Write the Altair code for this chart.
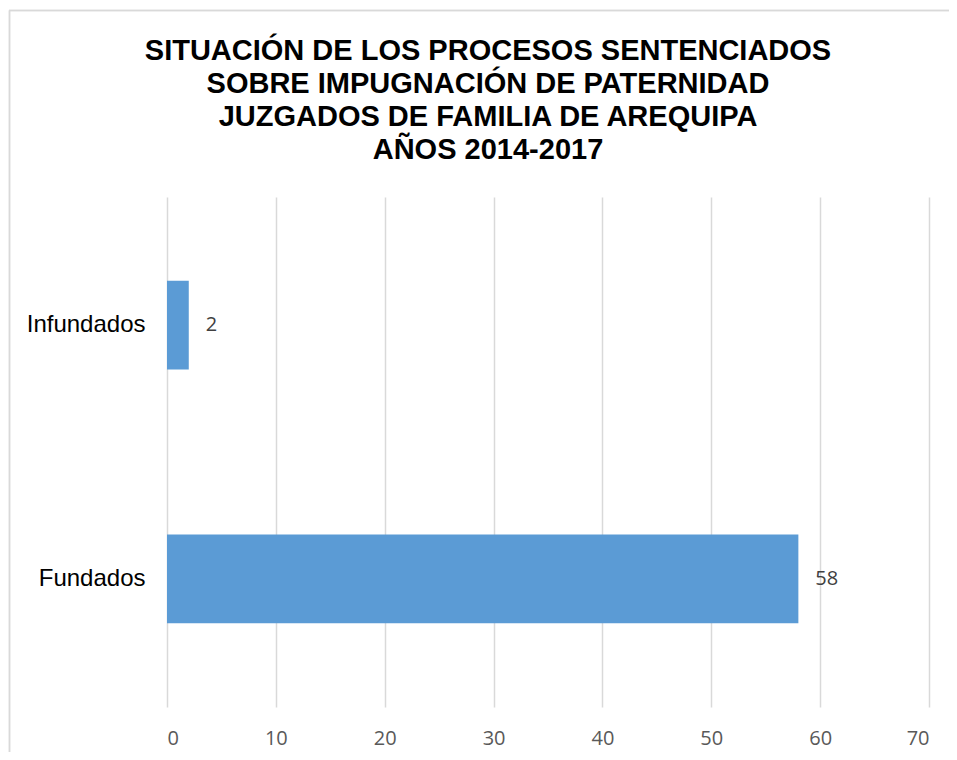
import altair as alt
import pandas as pd

categories = ["Infundados", "Fundados"]
values = [2, 58]
x_ticks = [0, 10, 20, 30, 40, 50, 60, 70]
title_lines = [
    "SITUACIÓN DE LOS PROCESOS SENTENCIADOS",
    "SOBRE IMPUGNACIÓN DE PATERNIDAD",
    "JUZGADOS DE FAMILIA DE AREQUIPA",
    "AÑOS 2014-2017",
]

df = pd.DataFrame({"cat": categories, "val": values})

base = alt.Chart(df)

y_enc = alt.Y(
    "cat:N",
    sort=categories,
    title=None,
    scale=alt.Scale(paddingInner=0.65, paddingOuter=0.33),
    axis=alt.Axis(
        labelFont="Liberation Sans",
        labelFontSize=24,
        labelColor="#000000",
        labelPadding=22,
        ticks=False,
        domain=False,
        grid=False,
    ),
)

x_enc = alt.X(
    "val:Q",
    title=None,
    scale=alt.Scale(domain=[0, 70], nice=False),
    axis=alt.Axis(
        values=x_ticks,
        labelFont="Open Sans",
        labelFontSize=20,
        labelColor="#595959",
        labelPadding=21,
        ticks=False,
        domain=False,
        grid=True,
        gridColor="#D9D9D9",
        gridWidth=1.5,
    ),
)

bars = base.mark_bar(color="#5B9BD5").encode(x=x_enc, y=y_enc)

labels = base.mark_text(
    align="left",
    baseline="middle",
    dx=17,
    font="Open Sans",
    fontSize=20,
    color="#404040",
).encode(x="val:Q", y=alt.Y("cat:N", sort=categories), text="val:Q")

border_left = base.mark_rule(color="#D9D9D9", strokeWidth=1.5).encode(
    x=alt.value(-157.5), y=alt.value(-186.5), y2=alt.value(600)
)
border_top = base.mark_rule(color="#D9D9D9", strokeWidth=1.5).encode(
    x=alt.value(-158), x2=alt.value(820), y=alt.value(-186.5)
)

chart = (
    alt.layer(border_left, border_top, bars, labels)
    .properties(
        width=762,
        height=510,
        autosize=alt.AutoSizeParams(type="none"),
        padding={"left": 159, "top": 189, "right": 20, "bottom": 45},
        background="#FFFFFF",
        title=alt.TitleParams(
            text=title_lines,
            font="Liberation Sans",
            fontSize=29,
            fontWeight="bold",
            color="#000000",
            lineHeight=33,
            anchor="middle",
            frame="group",
            baseline="bottom",
            offset=-184,
            dx=-60,
        ),
    )
    .configure_view(stroke=None)
)

chart.save("out.html", embed_options={"renderer": "svg", "actions": False})
